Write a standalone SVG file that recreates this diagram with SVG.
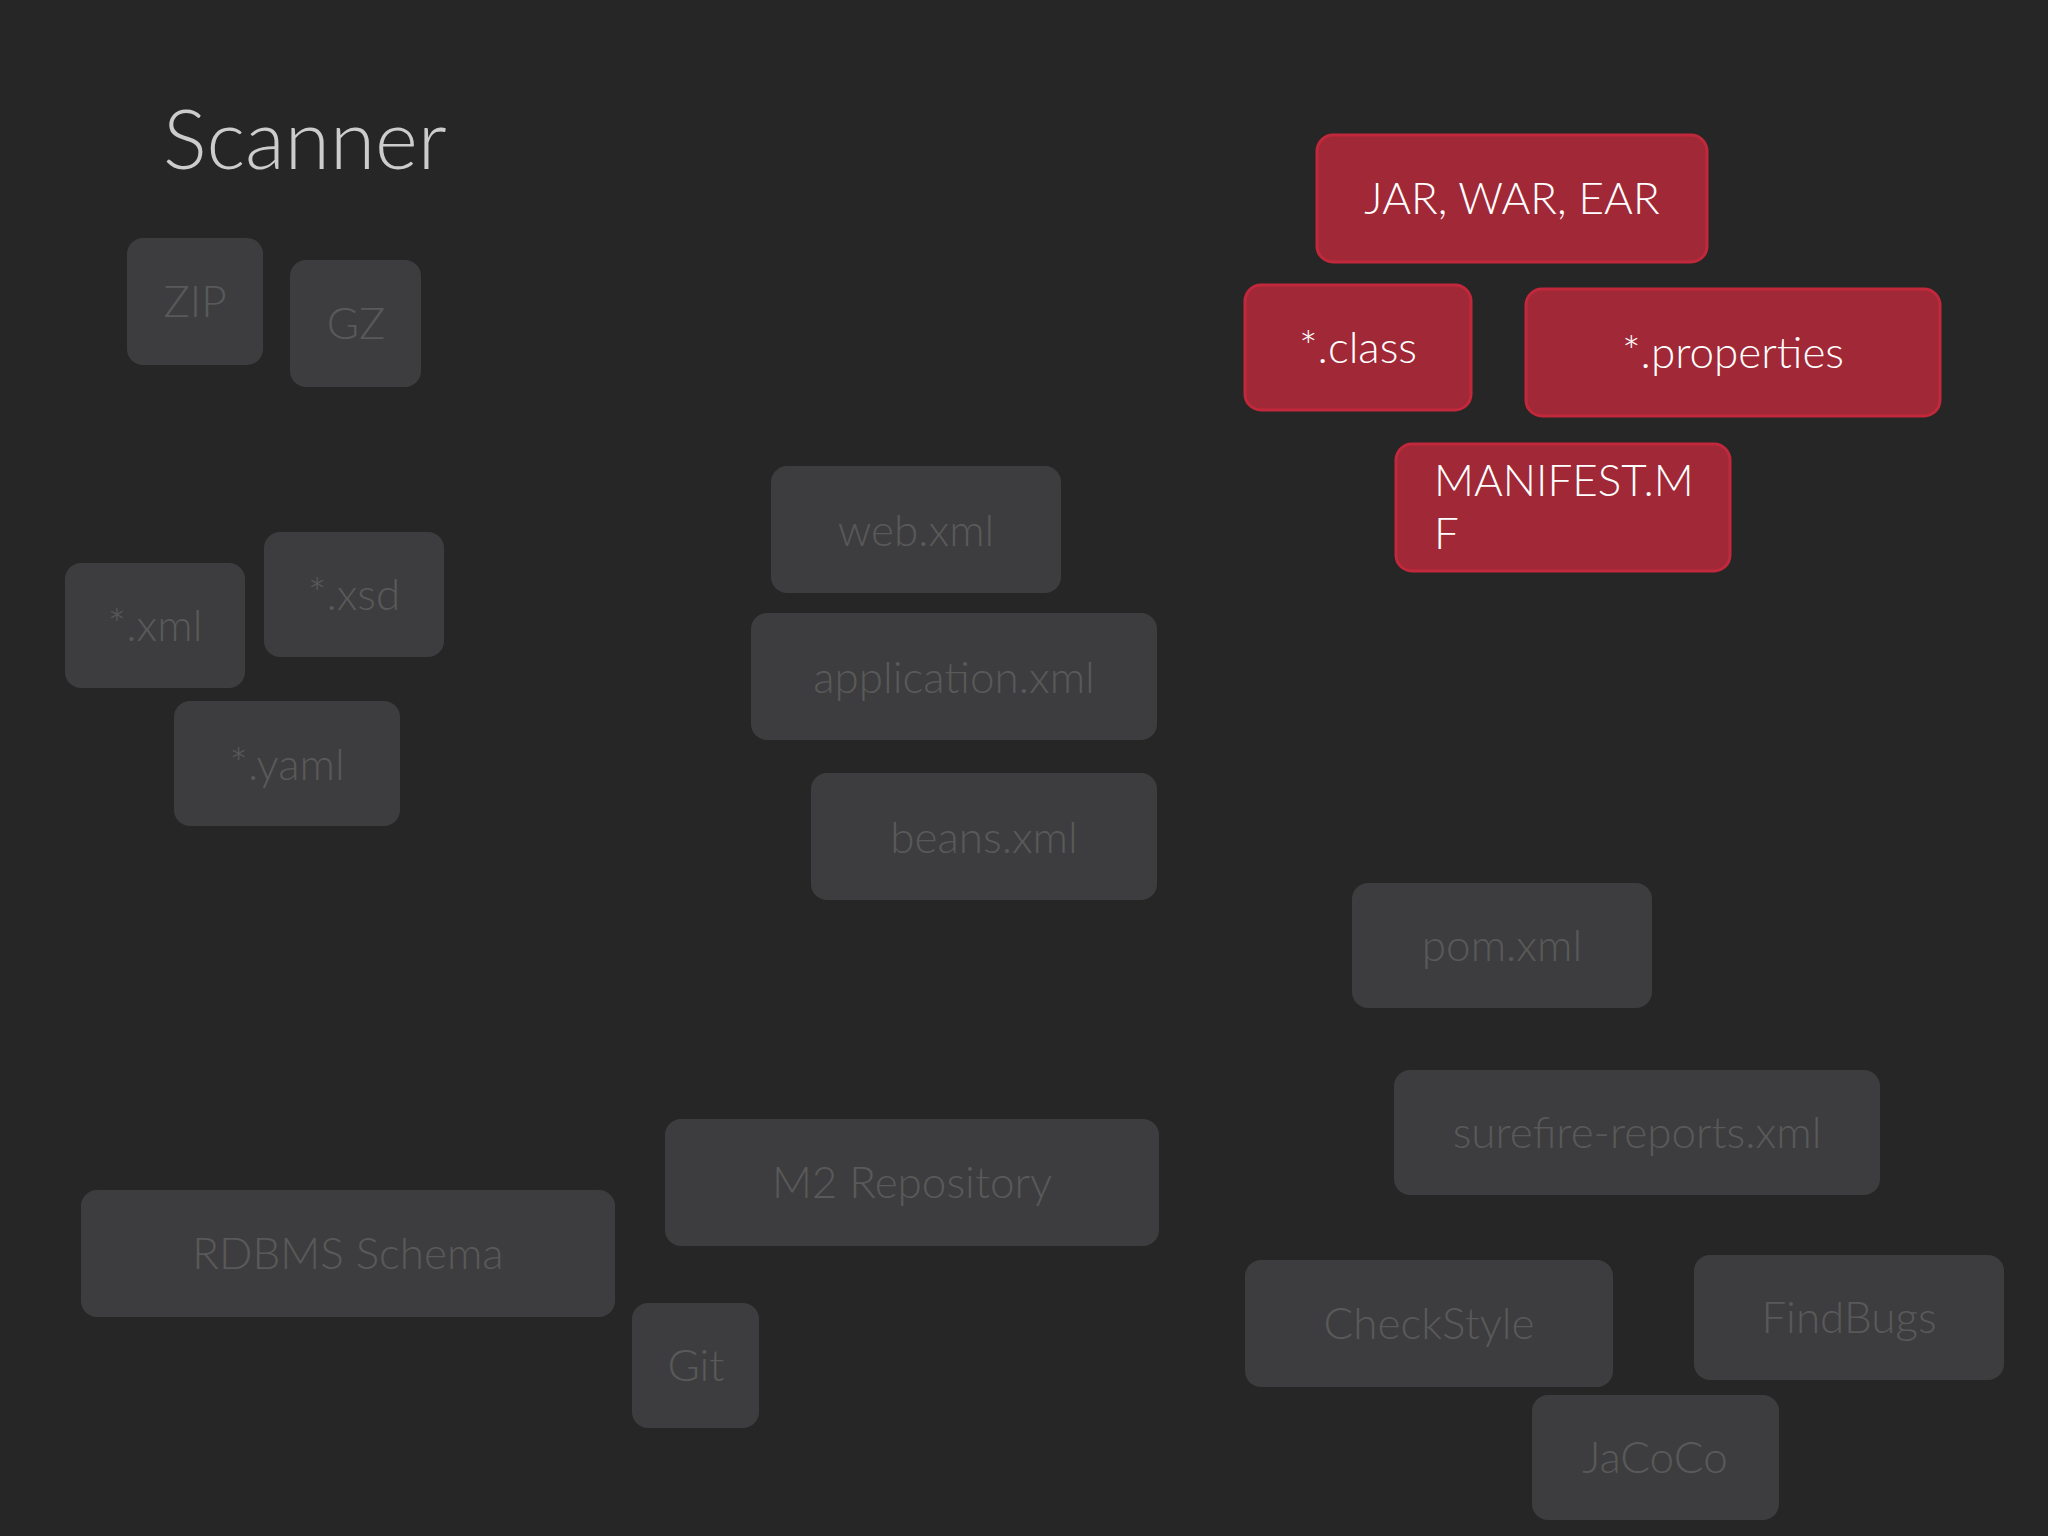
<svg xmlns="http://www.w3.org/2000/svg" width="2048" height="1536" viewBox="0 0 2048 1536">
<style>
.g rect{fill:#3d3d3f;rx:16px}
.g text{fill:#595959}
.r rect{fill:#a12837;stroke:#c2283b;stroke-width:3;rx:16px}
.r text{fill:#ffffff}
text{font-family:Lato,"Open Sans","Liberation Sans",sans-serif;font-weight:300;font-size:44px;text-anchor:middle;dominant-baseline:central}
</style>
<rect width="2048" height="1536" fill="#262626"/>
<text x="163" y="137" style="font-size:82px;fill:#cccccc;text-anchor:start">Scanner</text>
<g id="zip" class="g"><rect x="127" y="238" width="136" height="127"/><text x="195" y="300">ZIP</text></g>
<g id="gz" class="g"><rect x="290" y="260" width="131" height="127"/><text x="356" y="322">GZ</text></g>
<g id="xml" class="g"><rect x="65" y="563" width="180" height="125"/><text x="155" y="624">*.xml</text></g>
<g id="xsd" class="g"><rect x="264" y="532" width="180" height="125"/><text x="354" y="593">*.xsd</text></g>
<g id="yaml" class="g"><rect x="174" y="701" width="226" height="125"/><text x="287" y="763">*.yaml</text></g>
<g id="webxml" class="g"><rect x="771" y="466" width="290" height="127"/><text x="916" y="529">web.xml</text></g>
<g id="appxml" class="g"><rect x="751" y="613" width="406" height="127"/><text x="954" y="676">application.xml</text></g>
<g id="beans" class="g"><rect x="811" y="773" width="346" height="127"/><text x="984" y="836">beans.xml</text></g>
<g id="jar" class="r"><rect x="1317" y="135" width="390" height="127"/><text x="1512" y="197">JAR, WAR, EAR</text></g>
<g id="class" class="r"><rect x="1245" y="285" width="226" height="125"/><text x="1358" y="346">*.class</text></g>
<g id="props" class="r"><rect x="1526" y="289" width="414" height="127"/><text x="1733" y="351">*.properties</text></g>
<g id="manifest" class="r"><rect x="1396" y="444" width="334" height="127"/><text x="1434" y="479" style="text-anchor:start">MANIFEST.M</text><text x="1434" y="532" style="text-anchor:start">F</text></g>
<g id="pom" class="g"><rect x="1352" y="883" width="300" height="125"/><text x="1502" y="944">pom.xml</text></g>
<g id="surefire" class="g"><rect x="1394" y="1070" width="486" height="125"/><text x="1637" y="1131">surefire-reports.xml</text></g>
<g id="m2" class="g"><rect x="665" y="1119" width="494" height="127"/><text x="912" y="1181">M2 Repository</text></g>
<g id="rdbms" class="g"><rect x="81" y="1190" width="534" height="127"/><text x="348" y="1252">RDBMS Schema</text></g>
<g id="git" class="g"><rect x="632" y="1303" width="127" height="125"/><text x="696" y="1364">Git</text></g>
<g id="checkstyle" class="g"><rect x="1245" y="1260" width="368" height="127"/><text x="1429" y="1322">CheckStyle</text></g>
<g id="findbugs" class="g"><rect x="1694" y="1255" width="310" height="125"/><text x="1849" y="1316">FindBugs</text></g>
<g id="jacoco" class="g"><rect x="1532" y="1395" width="247" height="125"/><text x="1655" y="1456">JaCoCo</text></g>
<g id="connectors"/>
</svg>
